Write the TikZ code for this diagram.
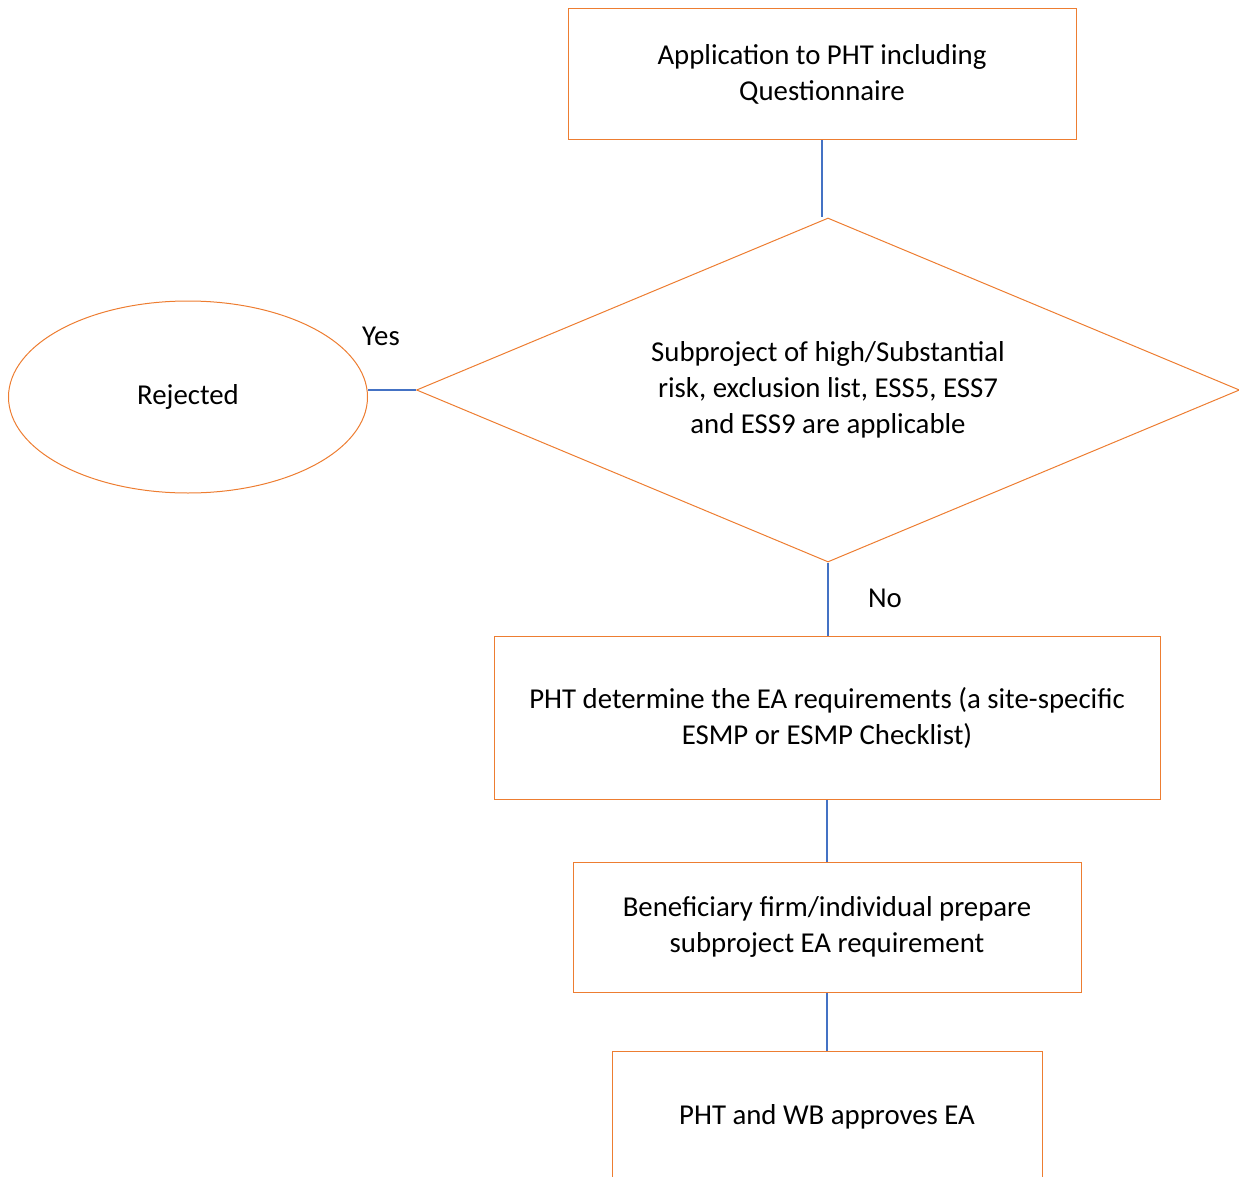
\documentclass[tikz,border=0pt]{standalone}
\usepackage{fontspec}
\setmainfont{Carlito}
\usetikzlibrary{shapes.geometric}
\definecolor{edgeorange}{RGB}{237,125,49}
\definecolor{linkblue}{RGB}{68,114,196}
\begin{document}
\begin{tikzpicture}[x=1pt,y=-1pt,
  every node/.style={font=\fontsize{28.8}{36}\selectfont,align=center,inner sep=0pt},
  box/.style={rectangle,draw=edgeorange,line width=1pt},
  link/.style={draw=linkblue,line width=1.5pt}]
  \clip (0,0) rectangle (1239,1177);

  \node[box,minimum width=508pt,minimum height=131pt] (apply) at (822,74.5)
    {Application to PHT including\\Questionnaire};
  \node[diamond,draw=edgeorange,line width=1pt,aspect=2.39,
        minimum width=823pt,minimum height=344pt] (risk) at (828,390)
    {Subproject of high/Substantial\\risk, exclusion list, ESS5, ESS7\\and ESS9 are applicable};
  \node[ellipse,draw=edgeorange,line width=1pt,
        minimum width=359pt,minimum height=192pt] (rej) at (188,397) {Rejected};
  \node[box,minimum width=666pt,minimum height=163pt] (req) at (827,717.5)
    {PHT determine the EA requirements (a site-specific\\ESMP or ESMP Checklist)};
  \node[box,minimum width=508pt,minimum height=130pt] (prep) at (827,927)
    {Beneficiary firm/individual prepare\\subproject EA requirement};
  \node[box,minimum width=430pt,minimum height=132pt] (appr) at (827,1117)
    {PHT and WB approves EA};

  \node (yes) at (381,336) {Yes};
  \node (no) at (885,598) {No};

  \draw[link] (apply.south) -- (apply.south |- risk.north);
  \draw[link] (risk.west) -- (risk.west -| rej.east);
  \draw[link] (risk.south) -- (risk.south |- req.north);
  \draw[link] (req.south) -- (prep.north);
  \draw[link] (prep.south) -- (appr.north);
\end{tikzpicture}
\end{document}
